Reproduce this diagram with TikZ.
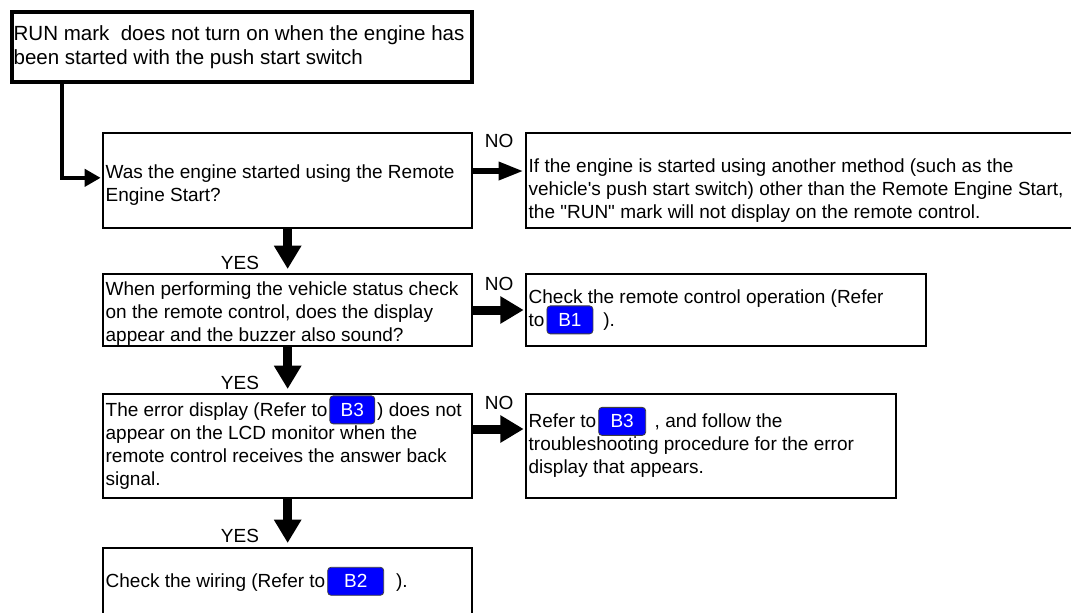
\documentclass[tikz,border=0pt]{standalone}
\usepackage{fontspec}
\setmainfont{Liberation Sans}
\usetikzlibrary{arrows.meta}

\newlength{\px}
\setlength{\px}{0.75pt}

% blue reference button inside a line of text
\newcommand{\refbtn}[2][34.5pt]{%
  \smash{\tikz[baseline = (btn.base)] \node[
      draw = black!75, fill = blue, text = white,
      rounded corners = 2.5pt, line width = 0.6pt,
      inner sep = 0pt, text width = {}, align = center, anchor = center,
      minimum width = #1, minimum height = 21pt,
      font = \fontsize{14.25pt}{17.25pt}\selectfont
    ] (btn) {#2};}}

\begin{document}
\begin{tikzpicture}[
     x = 0.75pt, y = -0.75pt, % one unit = one pixel
     > = Triangle, % arrow head style
     shorten > = 1pt, % don't touch arrow head to node
     every node/.style = {font = \fontsize{14.25pt}{17.25pt}\selectfont}
 ]

 \tikzstyle{topbox} = [
     draw = black,
     line width = 3pt,
     fill = white,
     anchor = north west,
     align = flush left,
     inner xsep = 1.2pt,
     inner ysep = 0pt,
     font = \fontsize{15.4pt}{18pt}\selectfont
 ]
 \tikzstyle{box} = [
     draw = black,
     line width = 1.5pt,
     fill = white,
     anchor = north west,
     align = flush left,
     inner xsep = 2pt,
     inner ysep = 0pt
 ]
 \tikzstyle{flow} = [
     ->,
     line width = 6.75pt,
     > = {Triangle[length = 17.5pt, width = 19.5pt]}
 ]
 \tikzstyle{turn} = [
     ->,
     line width = 3.4pt,
     > = {Triangle[length = 12pt, width = 12.75pt]}
 ]

 \useasboundingbox (0,0) rectangle (1071,613);
 \clip (0,0) rectangle (1071,613);

 \node[topbox, text width = 457\px, minimum height = 70\px] (top) at (10,10)
     {RUN mark\ \ does not turn on when the engine has\\
      been started with the push start switch};

 \node[box, text width = 364\px, minimum height = 95\px] (q1) at (102,132)
     {\rule{0pt}{16.5pt}Was the engine started using the Remote\\
      Engine Start?};
 \node[box, text width = 555\px, minimum height = 95\px] (n1) at (525,132)
     {\rule{0pt}{25.5pt}If the engine is started using another method (such as the\\
      vehicle\textquotesingle s push start switch) other than the Remote Engine Start,\\
      the \textquotedbl RUN\textquotedbl{} mark will not display on the remote control.};

 \node[box, text width = 364\px, minimum height = 72\px] (q2) at (102,273)
     {\rule{0pt}{16pt}When performing the vehicle status check\\
      on the remote control, does the display\\
      appear and the buzzer also sound?};
 \node[box, text width = 395\px, minimum height = 72\px] (n2) at (525,273)
     {Check the remote control operation (Refer\\
      to\hspace{1.5pt}\refbtn{B1}\hspace{7.5pt}).};

 \node[box, text width = 364\px, minimum height = 104\px] (q3) at (102,393)
     {The error display (Refer to\hspace{1.5pt}\refbtn[33.75pt]{B3}\hspace{1.5pt}) does not\\
      appear on the LCD monitor when the\\
      remote control receives the answer back\\
      signal.};
 \node[box, text width = 365\px, minimum height = 104\px] (n3) at (525,393)
     {Refer to\hspace{1.5pt}\refbtn[35.25pt]{B3}\hspace{6.5pt}, and follow the\\
      troubleshooting procedure for the error\\
      display that appears.};

 \node[box, text width = 364\px, minimum height = 70\px] (last) at (102,547)
     {Check the wiring (Refer to\hspace{1.5pt}\refbtn[42pt]{B2}\hspace{9pt}).};

 \draw[turn] ([xshift = 39pt]top.south west) |- ([yshift = 2pt]q1.west);

 \path[flow, line width = 4.5pt, > = {Triangle[length = 18.75pt, width = 12.75pt]}]
     ([yshift = 7.1pt]q1.east) edge node[above = 12pt] {NO} ([yshift = 7.1pt]n1.west);
 \path[flow] (q2.east) edge node[above = 7.5pt] {NO} (n2.west);
 \path[flow] ([yshift = 12.75pt]q3.east) edge node[above = 8pt] {NO} ([yshift = 12.75pt]n3.west);

 \path[flow, shorten > = 3pt] (q1.south) edge node[pos = .78, left = 14.8pt] {YES} (q2.north);
 \path[flow, shorten > = 3pt] (q2.south) edge node[pos = .78, left = 14.8pt] {YES} (q3.north);
 \path[flow, shorten > = 3pt] (q3.south) edge node[pos = .78, left = 14.8pt] {YES} (last.north);
\end{tikzpicture}
\end{document}
